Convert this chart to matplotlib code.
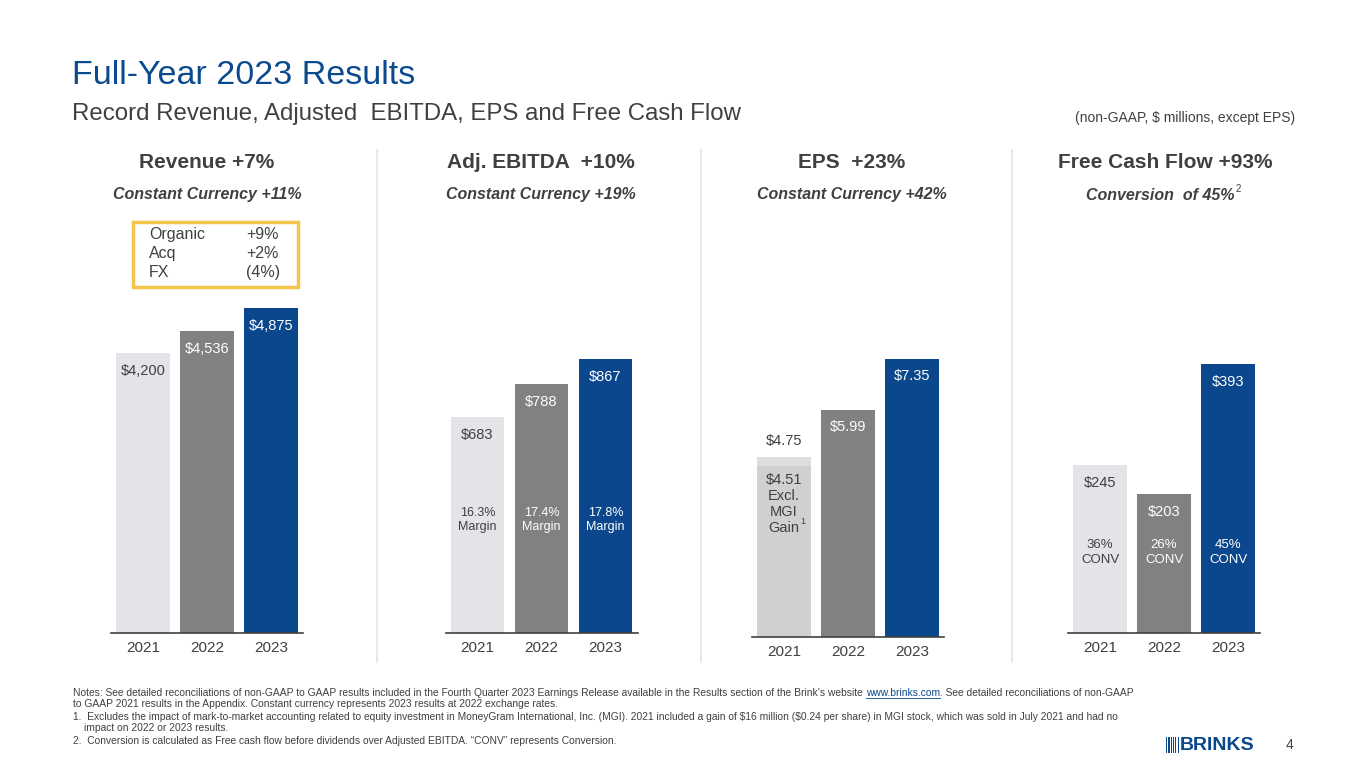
import matplotlib
matplotlib.use("Agg")
import matplotlib.pyplot as plt
import matplotlib.patches as patches

plt.rcParams['font.family'] = ['Liberation Sans', 'DejaVu Sans']

# data
years = ['2021', '2022', '2023']
revenue = [4200, 4536, 4875]
ebitda = [683, 788, 867]
eps = [4.75, 5.99, 7.35]
eps_excl_mgi = 4.51
fcf = [245, 203, 393]
revenue_labels = ['$4,200', '$4,536', '$4,875']
ebitda_labels = ['$683', '$788', '$867']
eps_labels = ['$4.75', '$5.99', '$7.35']
fcf_labels = ['$245', '$203', '$393']
margins = ['16.3%\nMargin', '17.4%\nMargin', '17.8%\nMargin']
conversions = ['36%\nCONV', '26%\nCONV', '45%\nCONV']
rev_bridge = [('Organic', '+9%'), ('Acq', '+2%'), ('FX', '(4%)')]

LIGHT = '#e3e4e8'
EPS_LIGHT = '#d0cfd1'
EPS_TOP = '#dedee0'
GRAY = '#7f8182'
BLUE = '#0b478c'
TXT = '#404040'
bar_colors = [LIGHT, GRAY, BLUE]
label_colors = [TXT, 'white', 'white']

W, H = 1365, 768
fig = plt.figure(figsize=(W / 100, H / 100), dpi=100)


def fx(px):
    return px / W


def fy(py):
    return 1 - py / H


def make_axes(left, base, height, ymax):
    ax = fig.add_axes([fx(left), fy(base), fx(192), height / H])
    ax.set_xlim(-0.5, 2.5)
    ax.set_ylim(0, ymax)
    for s in ['top', 'right', 'left']:
        ax.spines[s].set_visible(False)
    ax.spines['bottom'].set_color('#404040')
    ax.spines['bottom'].set_linewidth(1.2)
    ax.set_yticks([])
    ax.set_xticks(range(3))
    ax.set_xticklabels(years, fontsize=11, color=TXT)
    ax.tick_params(axis='x', length=0, pad=6)
    return ax


def value_labels(ax, xs, vals, labels, offset_px, colors, size=10.5):
    for x, v, lab, c in zip(xs, vals, labels, colors):
        ax.annotate(lab, (x, v), xytext=(0, -offset_px * 0.72), textcoords='offset points',
                    ha='center', va='center', fontsize=size, color=c)


def heading(x, title, sub):
    fig.text(fx(x), fy(163), title, ha='center', va='center', fontsize=15,
             fontweight='bold', color=TXT)
    fig.text(fx(x), fy(194), sub, ha='center', va='center', fontsize=11.5,
             fontweight='bold', fontstyle='italic', color=TXT)


# Revenue
ax1 = make_axes(111, 633, 350, 5250)
ax1.bar(range(3), revenue, width=0.84, color=bar_colors)
value_labels(ax1, range(3), revenue, revenue_labels, 18, label_colors)

# Adj. EBITDA
ax2 = make_axes(445.5, 633, 350, 1107)
ax2.bar(range(3), ebitda, width=0.84, color=bar_colors)
value_labels(ax2, range(3), ebitda, ebitda_labels, 18, label_colors)
for i, m in enumerate(margins):
    ax2.text(i, 0.322, m, transform=ax2.get_xaxis_transform(), ha='center', va='center',
             fontsize=9, color=label_colors[i], linespacing=1.25)

# EPS
ax3 = make_axes(752, 637, 354, 9.36)
ax3.bar(0, eps[0], width=0.84, color=EPS_TOP)
ax3.bar(0, eps_excl_mgi, width=0.84, color=EPS_LIGHT)
ax3.bar([1, 2], eps[1:], width=0.84, color=[GRAY, BLUE])
ax3.annotate(eps_labels[0], (0, eps[0]), xytext=(0, 12), textcoords='offset points',
             ha='center', va='center', fontsize=10.5, color=TXT)
value_labels(ax3, [1, 2], eps[1:], eps_labels[1:], 17, ['white', 'white'])
for k, line in enumerate([f'${eps_excl_mgi:.2f}', 'Excl.', 'MGI', 'Gain']):
    ax3.annotate(line, (0, eps_excl_mgi), xytext=(0, -(14 + 16 * k) * 0.72),
                 textcoords='offset points', ha='center', va='center',
                 fontsize=10.5, color=TXT)
ax3.annotate('1', (0, eps_excl_mgi), xytext=(16.5 * 0.72, -55 * 0.72),
             textcoords='offset points', ha='left', va='center', fontsize=6.5, color=TXT)

# Free Cash Flow
ax4 = make_axes(1068, 633, 350, 511)
ax4.bar(range(3), fcf, width=0.84, color=bar_colors)
value_labels(ax4, range(3), fcf, fcf_labels, 18, label_colors)
for i, c in enumerate(conversions):
    ax4.text(i, 0.23, c, transform=ax4.get_xaxis_transform(), ha='center', va='center',
             fontsize=9.5, color=label_colors[i], linespacing=1.25)

# headings
heading(207, 'Revenue +7%', 'Constant Currency +11%')
heading(541, 'Adj. EBITDA  +10%', 'Constant Currency +19%')
heading(852, 'EPS  +23%', 'Constant Currency +42%')
fig.text(fx(1165), fy(163), 'Free Cash Flow +93%', ha='center', va='center', fontsize=15,
         fontweight='bold', color=TXT)
fig.text(fx(1160), fy(196), 'Conversion  of 45%', ha='center', va='center',
         fontsize=11.5, fontweight='bold', fontstyle='italic', color=TXT)
fig.text(fx(1236), fy(189), '2', ha='left', va='center', fontsize=7, color=TXT)

# revenue bridge box
fig.patches.append(patches.Rectangle((fx(133), fy(287)), fx(165), (287 - 222) / H,
                                     transform=fig.transFigure, fill=False,
                                     edgecolor='#f5c54a', linewidth=2.5))
for k, (name, val) in enumerate(rev_bridge):
    fig.text(fx(149), fy(239 + 19 * k), name, ha='left', va='baseline', fontsize=11.5, color=TXT)
    fig.text(fx(246), fy(239 + 19 * k), val, ha='left', va='baseline', fontsize=11.5, color=TXT)

# separators
for x in [377, 701, 1012]:
    fig.add_artist(plt.Line2D([fx(x), fx(x)], [fy(150), fy(662)], color='#dbe5ef', linewidth=1.2))

# titles
fig.text(fx(72), fy(75), 'Full-Year 2023 Results', ha='left', va='center', fontsize=24.5,
         color='#0b4a8f')
fig.text(fx(72), fy(114), 'Record Revenue, Adjusted  EBITDA, EPS and Free Cash Flow',
         ha='left', va='center', fontsize=17.3, color=TXT)
fig.text(fx(1295), fy(118), '(non-GAAP, $ millions, except EPS)', ha='right', va='center',
         fontsize=10, color=TXT)

# notes
note_fs = 7.4
renderer = fig.canvas.get_renderer()
n1a = fig.text(fx(73), fy(693), 'Notes: See detailed reconciliations of non-GAAP to GAAP results included in the '
               'Fourth Quarter 2023 Earnings Release available in the Results section of the Brink\'s website ',
               ha='left', va='center', fontsize=note_fs, color=TXT)
bb = n1a.get_window_extent(renderer)
link = fig.text(bb.x1 / W, fy(693), 'www.brinks.com', ha='left', va='center', fontsize=note_fs,
                color='#0b4a8f')
lb = link.get_window_extent(renderer)
fig.add_artist(plt.Line2D([lb.x0 / W, lb.x1 / W], [lb.y0 / H, lb.y0 / H], color='#0b4a8f', linewidth=0.6))
fig.text(lb.x1 / W, fy(693), '. See detailed reconciliations of non-GAAP', ha='left', va='center',
         fontsize=note_fs, color=TXT)
fig.text(fx(73), fy(704), 'to GAAP 2021 results in the Appendix. Constant currency represents 2023 results at 2022 exchange rates.',
         ha='left', va='center', fontsize=note_fs, color=TXT)
fig.text(fx(73), fy(717), '1.  Excludes the impact of mark-to-market accounting related to equity investment in MoneyGram '
         'International, Inc. (MGI). 2021 included a gain of \\$16 million (\\$0.24 per share) in MGI stock, which was sold in July 2021 and had no',
         ha='left', va='center', fontsize=note_fs, color=TXT)
fig.text(fx(84), fy(728), 'impact on 2022 or 2023 results.', ha='left', va='center', fontsize=note_fs, color=TXT)
fig.text(fx(73), fy(741), '2.  Conversion is calculated as Free cash flow before dividends over Adjusted EBITDA. '
         '\u201cCONV\u201d represents Conversion.', ha='left', va='center', fontsize=note_fs, color=TXT)

# logo
for k in range(6):
    fig.add_artist(patches.Rectangle((fx(1166 + 2.3 * k), fy(753)), fx(1.2), 16 / H,
                                     transform=fig.transFigure, color=BLUE, linewidth=0))
fig.text(fx(1180), fy(745), 'BRINKS', ha='left', va='center', fontsize=14, fontweight='bold',
         color=BLUE)
fig.text(fx(1290), fy(745), '4', ha='center', va='center', fontsize=10, color=TXT)

fig.savefig('out.png', dpi=100)
